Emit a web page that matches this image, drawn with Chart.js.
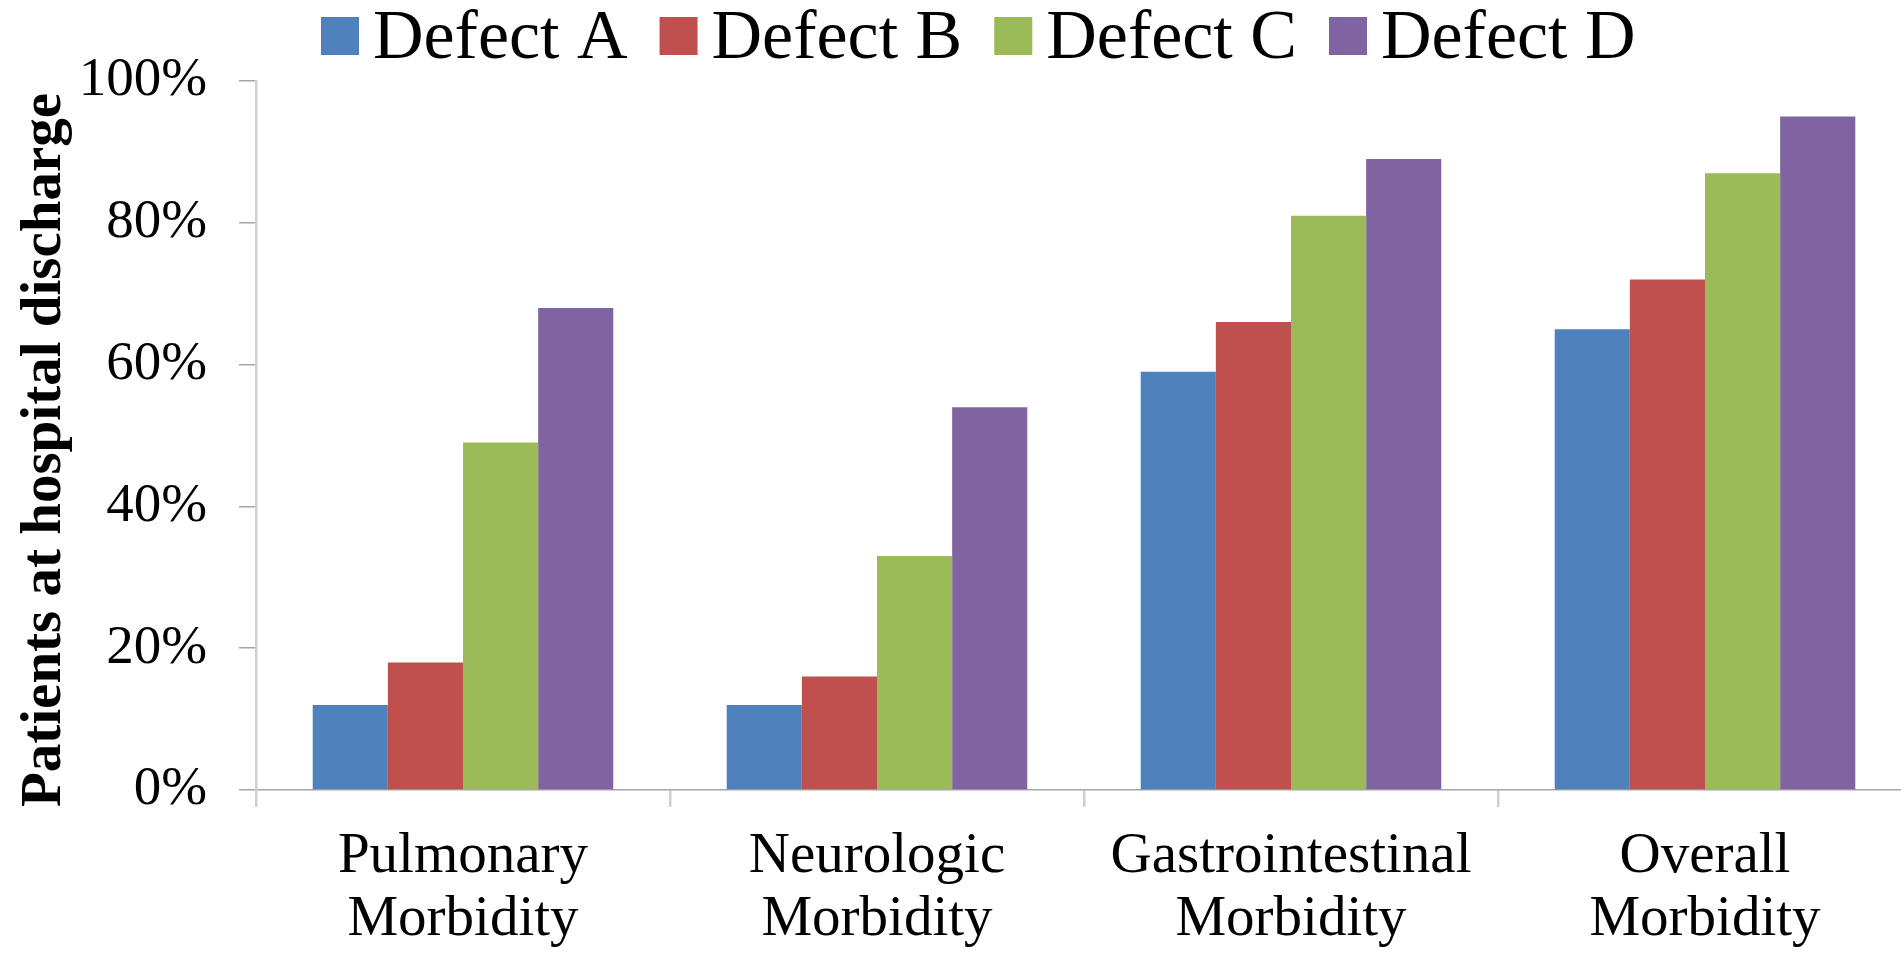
<!DOCTYPE html>
<html>
<head>
<meta charset="utf-8">
<script src="https://cdn.jsdelivr.net/npm/chart.js@4/dist/chart.umd.min.js"></script>
<style>
  html, body { margin: 0; padding: 0; background: #ffffff; overflow: hidden; }
  #wrap { position: relative; width: 1912px; height: 958px; }
</style>
</head>
<body>
<div id="wrap"><canvas id="chart"></canvas></div>
<script>
// Morbidity categories (two-line axis labels)
const categories = [
  ['Pulmonary', 'Morbidity'],
  ['Neurologic', 'Morbidity'],
  ['Gastrointestinal', 'Morbidity'],
  ['Overall', 'Morbidity']
];

// Series names and values (% of patients)
const seriesNames = ['Defect A', 'Defect B', 'Defect C', 'Defect D'];
const defectA = [12, 12, 59, 65];
const defectB = [18, 16, 66, 72];
const defectC = [49, 33, 81, 87];
const defectD = [68, 54, 89, 95];

// Value axis tick labels
const yTicks = [0, 20, 40, 60, 80, 100];
const yTitle = 'Patients at hospital discharge';

const seriesColors = ['#4F81BD', '#C0504D', '#9BBB59', '#8064A2'];
const FONT = '"Liberation Serif", "Times New Roman", serif';

// Legend row across the top: square swatch followed by its label
const topLegend = {
  id: 'topLegend',
  afterDraw(chart) {
    const ctx = chart.ctx;
    ctx.save();
    ctx.font = '70px ' + FONT;
    ctx.textBaseline = 'alphabetic';
    ctx.textAlign = 'left';
    let x = 321;
    chart.data.datasets.forEach(ds => {
      ctx.fillStyle = ds.backgroundColor;
      ctx.fillRect(x, 17, 38, 38);
      ctx.fillStyle = '#000000';
      ctx.fillText(ds.label, x + 52, 58);
      x += 52 + ctx.measureText(ds.label).width + 32;
    });
    ctx.restore();
  }
};

// Rotated bold title for the value axis
const valueAxisTitle = {
  id: 'valueAxisTitle',
  afterDraw(chart) {
    const ctx = chart.ctx;
    ctx.save();
    ctx.translate(60, 450);
    ctx.rotate(-Math.PI / 2);
    ctx.font = 'bold 57px ' + FONT;
    ctx.textAlign = 'center';
    ctx.textBaseline = 'alphabetic';
    ctx.fillStyle = '#000000';
    ctx.fillText(yTitle, 0, 0);
    ctx.restore();
  }
};

const seriesValues = [defectA, defectB, defectC, defectD];

new Chart(document.getElementById('chart'), {
  type: 'bar',
  data: {
    labels: categories,
    datasets: seriesNames.map((name, i) => ({
      label: name,
      data: seriesValues[i],
      backgroundColor: seriesColors[i],
      borderWidth: 0,
      barPercentage: 1.0,
      categoryPercentage: 0.726
    }))
  },
  options: {
    responsive: true,
    maintainAspectRatio: false,
    animation: false,
    devicePixelRatio: 1,
    layout: { padding: { top: 81, left: 0, right: 0, bottom: 0 } },
    plugins: {
      legend: { display: false },
      tooltip: { enabled: false }
    },
    scales: {
      x: {
        ticks: {
          color: '#000000',
          padding: 19,
          maxRotation: 0,
          autoSkip: false,
          font: { family: FONT, size: 57, lineHeight: 1.1 }
        },
        grid: {
          offset: true,
          drawOnChartArea: false,
          drawTicks: true,
          tickLength: 17,
          color: '#d0d0d0',
          lineWidth: 2.5
        },
        border: { display: true, color: '#a6a6a6', width: 1.5 },
        afterFit(scale) { scale.height = 168; }
      },
      y: {
        min: yTicks[0],
        max: yTicks[yTicks.length - 1],
        afterBuildTicks(scale) { scale.ticks = yTicks.map(v => ({ value: v })); },
        ticks: {
          color: '#000000',
          padding: 32,
          font: { family: FONT, size: 55 },
          callback: v => v + '%'
        },
        grid: {
          drawOnChartArea: false,
          drawTicks: true,
          tickLength: 17,
          color: '#a6a6a6',
          lineWidth: 1.5
        },
        border: { display: true, color: '#d0d0d0', width: 2.5 },
        afterFit(scale) { scale.width = 256; }
      }
    }
  },
  plugins: [topLegend, valueAxisTitle]
});
</script>
</body>
</html>
